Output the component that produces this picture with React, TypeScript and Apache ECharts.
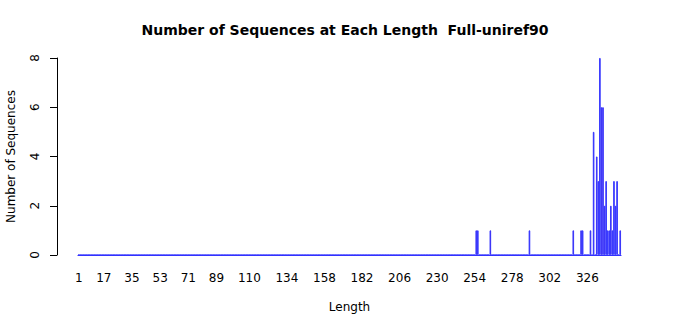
import React, { useEffect, useRef } from "react";
import * as echarts from "echarts";

// Observed non-zero counts (all other lengths have 0 sequences)
const observedLengths = [255, 256, 264, 289, 317, 322, 323, 328, 330, 332, 333, 334, 335, 336, 337, 338, 339, 340, 341, 342, 343, 344, 345, 347];
const observedCounts = [1, 1, 1, 1, 1, 1, 1, 1, 5, 4, 3, 8, 6, 6, 2, 3, 1, 1, 2, 1, 3, 2, 3, 1];
const minLength = 1;
const maxLength = 347;
const xTickLabels = [1, 17, 35, 53, 71, 89, 110, 134, 158, 182, 206, 230, 254, 278, 302, 326];
const yMin = 0;
const yMax = 8;
const yInterval = 2;
const purpleLengths = [255, 264, 317, 322, 328, 332, 335, 336, 337, 341, 347];

const TITLE = "Number of Sequences at Each Length  Full-uniref90";
const X_NAME = "Length";
const Y_NAME = "Number of Sequences";

const BLUE = "#2222ee";
const PURPLE = "#5000a8";
const FONT = "DejaVu Sans";

export default function App() {
  const ref = useRef<HTMLDivElement>(null);
  useEffect(() => {
    if (!ref.current) return;
    const chart = echarts.init(ref.current, null, { renderer: "svg" });
    const categories: string[] = [];
    const values: any[] = [];
    for (let L = minLength; L <= maxLength; L++) {
      categories.push(String(L));
      const idx = observedLengths.indexOf(L);
      const v = idx >= 0 ? observedCounts[idx] : 0;
      values.push({
        value: v,
        itemStyle: { color: purpleLengths.includes(L) ? PURPLE : BLUE },
      });
    }
    const tickSet = new Set(xTickLabels.map(String));
    chart.setOption({
      animation: false,
      textStyle: { fontFamily: FONT },
      grid: { left: 78, right: 79, top: 58, bottom: 60, containLabel: false, outerBoundsMode: "none" },
      graphic: [
        {
          type: "text",
          x: 345,
          y: 30,
          style: {
            text: TITLE,
            font: `bold 14px '${FONT}'`,
            fill: "#000",
            textAlign: "center",
            textVerticalAlign: "middle",
          },
        },
      ],
      xAxis: {
        type: "category",
        data: categories,
        boundaryGap: true,
        axisLine: { show: true, lineStyle: { color: "#3333ff", width: 1.2 } },
        axisTick: { show: false },
        axisLabel: {
          interval: (_i: number, v: string) => tickSet.has(v),
          color: "#000",
          fontSize: 12,
          fontFamily: FONT,
          margin: 17,
        },
        name: X_NAME,
        nameLocation: "middle",
        nameGap: 46,
        nameTextStyle: { color: "#000", fontSize: 12, fontFamily: FONT },
        splitLine: { show: false },
      },
      yAxis: {
        type: "value",
        min: yMin,
        max: yMax,
        interval: yInterval,
        offset: 21,
        axisLine: { show: true, lineStyle: { color: "#000", width: 1 } },
        axisTick: { show: true, length: 7, lineStyle: { color: "#000" } },
        axisLabel: {
          rotate: 90,
          color: "#000",
          fontSize: 12,
          fontFamily: FONT,
          margin: 16,
        },
        splitLine: { show: false },
        name: Y_NAME,
        nameLocation: "middle",
        nameRotate: 90,
        nameGap: 40,
        nameTextStyle: { color: "#000", fontSize: 12, fontFamily: FONT },
      },
      series: [
        {
          type: "bar",
          data: values,
          barCategoryGap: "0%",
          itemStyle: { borderColor: "#3333ff", borderWidth: 0.9 },
        },
      ],
    });
    return () => chart.dispose();
  }, []);
  return (
    <div
      ref={ref}
      style={{ position: "fixed", left: 0, top: 0, width: 700, height: 315, background: "#fff" }}
    />
  );
}
